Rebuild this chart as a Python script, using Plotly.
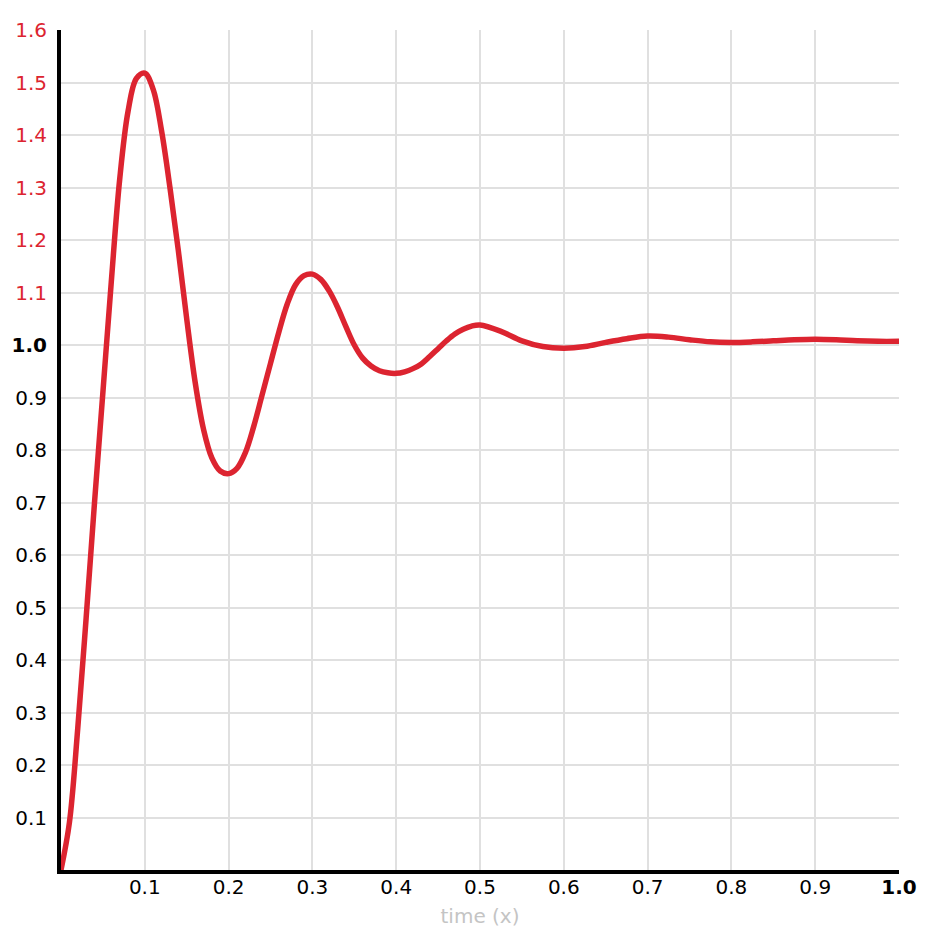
import plotly.graph_objects as go

# Curve samples (time, response)
time_x = [0.00, 0.01, 0.02, 0.03, 0.04, 0.05, 0.06, 0.07, 0.08, 0.09,
          0.10, 0.11, 0.12, 0.13, 0.14, 0.15, 0.16, 0.17, 0.18, 0.19,
          0.20, 0.21, 0.22, 0.23, 0.24, 0.25, 0.26, 0.27, 0.28, 0.29,
          0.30, 0.31, 0.32, 0.33, 0.34, 0.35, 0.36, 0.37, 0.38, 0.39,
          0.40, 0.41, 0.42, 0.43, 0.44, 0.45, 0.46, 0.47, 0.48, 0.49,
          0.50, 0.525, 0.55, 0.575, 0.60, 0.625, 0.65, 0.675, 0.70, 0.725,
          0.75, 0.775, 0.80, 0.825, 0.85, 0.875, 0.90, 0.925, 0.95, 0.975,
          1.00]
response = [0.00, 0.09, 0.27, 0.48, 0.70, 0.91, 1.12, 1.315, 1.445, 1.508,
            1.518, 1.487, 1.408, 1.30, 1.18, 1.05, 0.93, 0.84, 0.785, 0.760,
            0.755, 0.765, 0.795, 0.845, 0.905, 0.965, 1.025, 1.078, 1.115, 1.132,
            1.135, 1.125, 1.103, 1.072, 1.035, 1.000, 0.975, 0.960, 0.951, 0.947,
            0.946, 0.949, 0.955, 0.964, 0.978, 0.993, 1.008, 1.021, 1.030, 1.036,
            1.038, 1.026, 1.008, 0.997, 0.994, 0.997, 1.005, 1.012, 1.017, 1.015,
            1.010, 1.006, 1.005, 1.006, 1.008, 1.010, 1.011, 1.010, 1.008, 1.007,
            1.007]

y_tick_vals = [0.1, 0.2, 0.3, 0.4, 0.5, 0.6, 0.7, 0.8, 0.9, 1.0, 1.1, 1.2, 1.3, 1.4, 1.5, 1.6]
y_tick_text = ["0.1", "0.2", "0.3", "0.4", "0.5", "0.6", "0.7", "0.8", "0.9", "1.0",
               "1.1", "1.2", "1.3", "1.4", "1.5", "1.6"]
x_tick_vals = [0.1, 0.2, 0.3, 0.4, 0.5, 0.6, 0.7, 0.8, 0.9, 1.0]
x_tick_text = ["0.1", "0.2", "0.3", "0.4", "0.5", "0.6", "0.7", "0.8", "0.9", "1.0"]

RED = "#dc2430"


def fmt_y(v, t):
    if v > 1.0:
        return f"<span style='color:{RED}'>{t}</span>"
    if abs(v - 1.0) < 1e-9:
        return f"<b>{t}</b>"
    return t


def fmt_x(v, t):
    if abs(v - 1.0) < 1e-9:
        return f"<b>{t}</b>"
    return t


fig = go.Figure()
fig.add_trace(go.Scatter(
    x=time_x, y=response, mode="lines",
    line=dict(color=RED, width=5.5, shape="spline", smoothing=1.0),
    hoverinfo="skip", showlegend=False,
))

FAMILY = "DejaVu Sans, Verdana, sans-serif"
font = dict(family=FAMILY, size=20, color="#000000")

fig.update_layout(
    width=938, height=926,
    margin=dict(l=53, r=47, t=22, b=64, autoexpand=False),
    paper_bgcolor="white", plot_bgcolor="white",
    font=font,
    showlegend=False,
)
fig.update_xaxes(
    range=[0, 1], tickmode="array", tickvals=x_tick_vals,
    ticktext=[fmt_x(v, t) for v, t in zip(x_tick_vals, x_tick_text)],
    showgrid=True, gridcolor="#e0e0e0", gridwidth=2,
    showline=True, linecolor="black", linewidth=4,
    zeroline=False, ticks="", automargin=False, ticklabelstandoff=-4,
    tickfont=font,
    title=dict(text="time (x)", font=dict(family=FAMILY, size=20, color="#c4c4c4"), standoff=12),
)
fig.update_yaxes(
    range=[0, 1.6], tickmode="array", tickvals=y_tick_vals,
    ticktext=[fmt_y(v, t) for v, t in zip(y_tick_vals, y_tick_text)],
    showgrid=True, gridcolor="#e0e0e0", gridwidth=2,
    showline=True, linecolor="black", linewidth=4,
    zeroline=False, ticks="", ticklabelstandoff=6, automargin=False,
    tickfont=font,
)

fig.write_html("out.html")
